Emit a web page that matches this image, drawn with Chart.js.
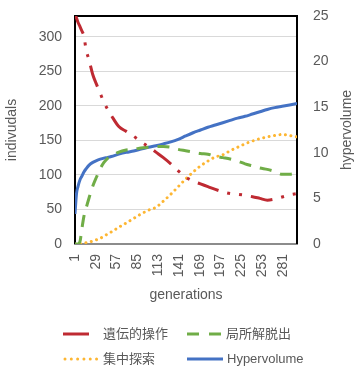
<!DOCTYPE html>
<html>
<head>
<meta charset="utf-8">
<script src="https://cdn.jsdelivr.net/npm/chart.js@4/dist/chart.umd.min.js"></script>
<style>
  html, body { margin: 0; padding: 0; background: #ffffff; }
  #wrap { width: 357px; height: 372px; }
</style>
</head>
<body>
<div id="wrap"><canvas id="c" width="357" height="372"></canvas></div>
<script>
// Generations at which each series was sampled
const generations = [1, 3, 5, 8, 10, 13, 16, 20, 25, 30, 35, 40, 45, 50, 60, 70, 80, 90, 100,
  110, 120, 130, 140, 150, 160, 170, 180, 190, 200, 210, 220, 230, 240, 250, 260, 270, 280, 290, 300];

// Number of individuals per operation (left axis)
const geneticOps = [334, 327, 321, 314, 309, 301, 281, 266, 245, 231, 218, 205, 195, 186, 170, 163, 156, 148, 141,
  133, 125, 116, 106, 97, 91, 87, 83, 79, 75.5, 73, 72, 70.5, 68.5, 66, 63.5, 65, 68, 71, 73];
const localEscape = [0, 0, 0, 5, 20, 40, 52, 67, 84, 97, 109, 118, 124, 127, 133, 136, 137, 139, 140,
  141, 141, 140, 137, 135, 133, 131, 130, 127, 125, 123, 120, 116, 113, 110, 108, 105, 101, 101, 103];
const focusedSearch = [0, 0, 0, 0.4, 0.7, 1.3, 2, 2.7, 4.3, 6.2, 8.4, 11.2, 14.5, 17.5, 24.2, 30.4, 37, 43.5, 49,
  53, 62, 72, 83, 94, 104, 113, 120, 126, 129, 135, 140, 145, 149, 152.5, 155, 157, 158.5, 157, 155];

// Hypervolume (right axis)
const hypervolume = [3.3, 5.5, 6.3, 7.1, 7.4, 7.9, 8.25, 8.65, 8.95, 9.15, 9.3, 9.42, 9.5, 9.6, 9.85, 10.05, 10.2, 10.4, 10.6,
  10.78, 10.98, 11.2, 11.48, 11.85, 12.2, 12.5, 12.8, 13.05, 13.3, 13.55, 13.8, 14.0, 14.25, 14.5, 14.75, 14.95, 15.1, 15.25, 15.4];

// Axis tick labels
const genTicks = [1, 29, 57, 85, 113, 141, 169, 197, 225, 253, 281];
const indivTicks = [0, 50, 100, 150, 200, 250, 300];
const hvTicks = [0, 5, 10, 15, 20, 25];

const seriesNames = ['遺伝的操作', '局所解脱出', '集中探索', 'Hypervolume'];

const TEXT = '#595959';
const FONT = "'Liberation Sans', 'Noto Sans CJK JP', sans-serif";
const RED = '#BF2A32', GREEN = '#70AD47', ORANGE = '#FDB632', BLUE = '#4472C4';

const pts = vals => generations.map((g, i) => ({ x: g, y: vals[i] }));

// Fixed scale sizes so the plot area sits in the same place every time
const fixSize = (w, h) => s => {
  if (w !== null) s.width = w;
  if (h !== null) s.height = h;
  s.paddingTop = 0;
  s.paddingBottom = 0;
  s.paddingLeft = 0;
  s.paddingRight = 0;
};

// Frame around the plot area (black top/left/right, grey base line is the x axis border)
const frame = {
  id: 'frame',
  beforeDatasetsDraw(chart) {
    const { ctx, chartArea: a } = chart;
    ctx.save();
    ctx.strokeStyle = '#000000';
    ctx.lineWidth = 2;
    ctx.beginPath();
    ctx.moveTo(a.left, a.bottom);
    ctx.lineTo(a.left, a.top);
    ctx.lineTo(a.right, a.top);
    ctx.lineTo(a.right, a.bottom);
    ctx.stroke();
    ctx.restore();
  }
};

// Right-hand axis title, reading upwards like the left one
const rightTitle = {
  id: 'rightTitle',
  afterDraw(chart) {
    const { ctx, chartArea: a } = chart;
    ctx.save();
    ctx.translate(347, (a.top + a.bottom) / 2);
    ctx.rotate(-Math.PI / 2);
    ctx.fillStyle = TEXT;
    ctx.font = '14px ' + FONT;
    ctx.textAlign = 'center';
    ctx.textBaseline = 'middle';
    ctx.fillText('hypervolume', 0, 0);
    ctx.restore();
  }
};

// Two-column legend below the axis title
const legendGrid = {
  id: 'legendGrid',
  afterDraw(chart) {
    const { ctx } = chart;
    const items = [
      { x: 63, y: 334, w: 26, color: RED, dash: [], cap: 'butt', tx: 103 },
      { x: 187, y: 334, w: 35, color: GREEN, dash: [12, 10], cap: 'butt', tx: 226 },
      { x: 65, y: 359, w: 33, color: ORANGE, dash: [0.01, 6.3], cap: 'round', tx: 103 },
      { x: 187, y: 359, w: 36, color: BLUE, dash: [], cap: 'butt', tx: 227 }
    ];
    ctx.save();
    items.forEach((it, i) => {
      ctx.beginPath();
      ctx.setLineDash(it.dash);
      ctx.lineCap = it.cap;
      ctx.lineWidth = 3;
      ctx.strokeStyle = it.color;
      ctx.moveTo(it.x, it.y);
      ctx.lineTo(it.x + it.w, it.y);
      ctx.stroke();
      ctx.setLineDash([]);
      ctx.fillStyle = TEXT;
      ctx.font = '13px ' + FONT;
      ctx.textAlign = 'left';
      ctx.textBaseline = 'middle';
      ctx.fillText(seriesNames[i], it.tx, it.y);
    });
    ctx.restore();
  }
};

const lineBase = {
  pointRadius: 0,
  borderWidth: 3,
  cubicInterpolationMode: 'monotone',
  fill: false
};

new Chart(document.getElementById('c'), {
  type: 'line',
  data: {
    datasets: [
      { ...lineBase, label: seriesNames[0], data: pts(geneticOps), borderColor: RED,
        borderDash: [22, 9, 3, 9, 3, 9], yAxisID: 'y' },
      { ...lineBase, label: seriesNames[1], data: pts(localEscape), borderColor: GREEN,
        borderDash: [12, 9], yAxisID: 'y' },
      { ...lineBase, label: seriesNames[2], data: pts(focusedSearch), borderColor: ORANGE,
        borderDash: [0.01, 5.5], borderCapStyle: 'round', yAxisID: 'y' },
      { ...lineBase, label: seriesNames[3], data: pts(hypervolume), borderColor: BLUE,
        yAxisID: 'y2' }
    ]
  },
  options: {
    responsive: false,
    animation: false,
    layout: { padding: { top: 16, bottom: 64, left: 0, right: 0 } },
    plugins: { legend: { display: false }, tooltip: { enabled: false } },
    scales: {
      x: {
        type: 'linear',
        min: 1,
        max: 300,
        afterBuildTicks(s) { s.ticks = genTicks.map(v => ({ value: v })); },
        afterFit: fixSize(null, 64),
        grid: { display: false, drawTicks: false },
        border: { display: true, color: '#8c8c8c', width: 2 },
        ticks: {
          autoSkip: false,
          minRotation: 90,
          maxRotation: 90,
          padding: 10,
          color: TEXT,
          font: { family: FONT, size: 14 },
          callback: v => String(v)
        },
        title: {
          display: true,
          text: 'generations',
          color: TEXT,
          font: { family: FONT, size: 14 },
          padding: { top: 4, bottom: 4 }
        }
      },
      y: {
        position: 'left',
        min: 0,
        max: 330,
        afterBuildTicks(s) { s.ticks = indivTicks.map(v => ({ value: v })); },
        afterFit: fixSize(75, null),
        grid: { color: '#d9d9d9', lineWidth: 1, drawTicks: false },
        border: { display: false },
        ticks: { padding: 13, color: TEXT, font: { family: FONT, size: 14 } },
        title: {
          display: true,
          text: 'indivudals',
          color: TEXT,
          font: { family: FONT, size: 14 },
          padding: 4
        }
      },
      y2: {
        position: 'right',
        min: 0,
        max: 25,
        afterBuildTicks(s) { s.ticks = hvTicks.map(v => ({ value: v })); },
        afterFit: fixSize(60, null),
        grid: { display: false, drawTicks: false },
        border: { display: false },
        ticks: { padding: 16, color: TEXT, font: { family: FONT, size: 14 } }
      }
    }
  },
  plugins: [frame, rightTitle, legendGrid]
});
</script>
</body>
</html>
